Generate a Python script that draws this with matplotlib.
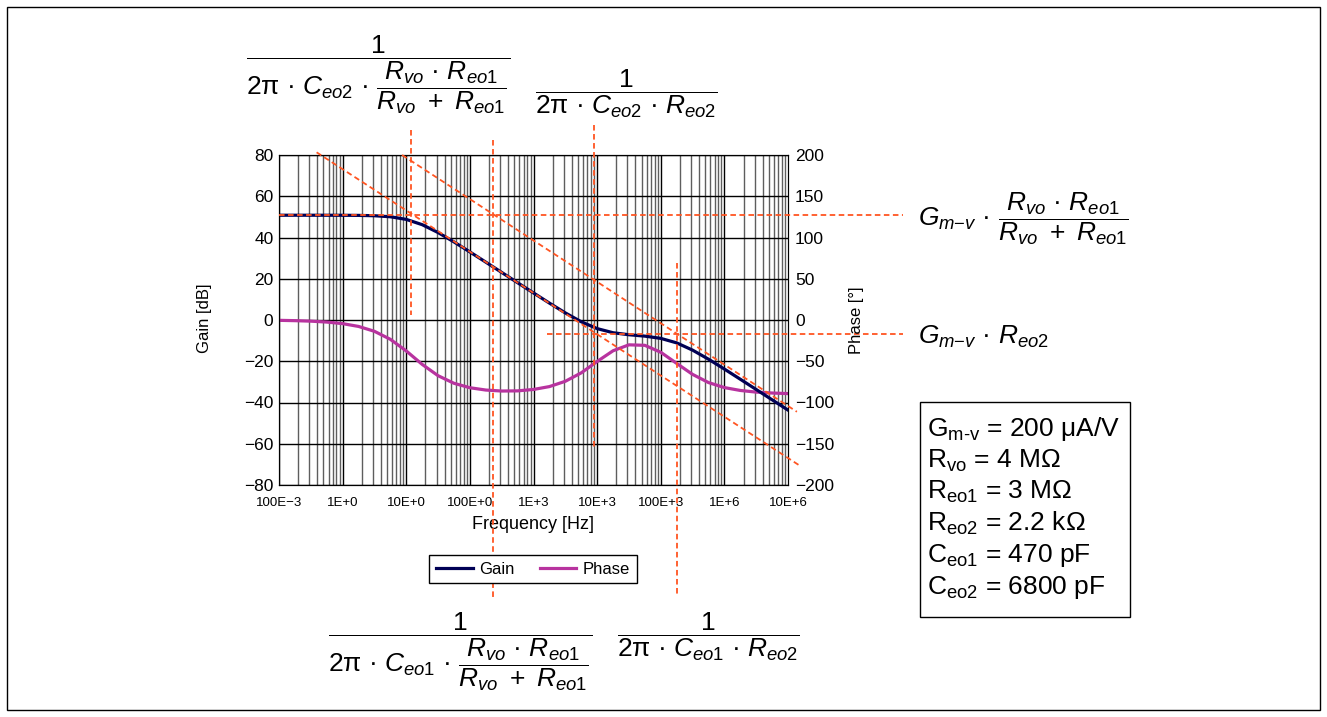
import numpy as np
import matplotlib.pyplot as plt
from matplotlib.patches import Rectangle

plt.rcParams['font.family'] = ['Liberation Sans', 'DejaVu Sans']
plt.rcParams['mathtext.fontset'] = 'custom'
plt.rcParams['mathtext.rm'] = 'Liberation Sans'
plt.rcParams['mathtext.it'] = 'Liberation Sans:italic'
plt.rcParams['mathtext.bf'] = 'Liberation Sans:bold'
plt.rcParams['lines.scale_dashes'] = False

# Datos (Hz, dB, grados)
frecuencia = [0.1, 0.178, 0.316, 0.562,
              1, 1.78, 3.16, 5.62,
              10, 17.8, 31.6, 56.2,
              100, 178, 316, 562,
              1e3, 1.78e3, 3.16e3, 5.62e3,
              1e4, 1.78e4, 3.16e4, 5.62e4,
              1e5, 1.78e5, 3.16e5, 5.62e5,
              1e6, 1.78e6, 3.16e6, 5.62e6, 1e7]
ganancia = [50.8, 50.8, 50.8, 50.79,
            50.77, 50.72, 50.55, 50.06,
            48.78, 46.22, 42.41, 37.86,
            33.01, 28.05, 23.08, 18.09,
            13.12, 8.19, 3.45, -0.85,
            -4.17, -6.17, -7.15, -7.82,
            -8.91, -11.09, -14.60, -18.99,
            -23.78, -28.72, -33.68, -38.68, -43.68]
fase = [-0.4, -0.8, -1.4, -2.5,
        -4.4, -7.8, -13.7, -23.4,
        -37.5, -53.8, -67.5, -76.7,
        -82.1, -84.9, -86.1, -85.9,
        -84.2, -80.7, -74.3, -64.1,
        -50.3, -37.3, -30.1, -30.7,
        -39.1, -52.6, -65.9, -75.8,
        -81.9, -85.4, -87.4, -88.5, -89.2]

# Lineas auxiliares: verticales (f, dB arriba, dB abajo)
verticales = [(11.75, 92.1, 2.4), (230, 87.3, -135.8),
              (9.0e3, 94.5, -63.0), (1.78e5, 27.8, -134.3)]
# horizontales (dB, f inicio, f fin)
horizontales = [(50.8, 0.1, 6.4e8), (-6.9, 1.63e3, 6.4e8)]
# asintotas de -20 dB/dec (f1, dB1, f2, dB2)
asintotas = [(0.39, 81.3, 1.6e7, -71.0), (8.6, 80.0, 1.38e7, -44.5)]

xticks = [0.1, 1, 10, 100, 1e3, 1e4, 1e5, 1e6, 1e7]
xlabels = ['100E\u22123', '1E+0', '10E+0', '100E+0', '1E+3', '10E+3',
           '100E+3', '1E+6', '10E+6']

W, H = 1327, 717
def fx(x):
    return x / W
def fy(y):
    return 1 - y / H

naranja = '#ff5522'
azul = '#000055'
magenta = '#b8339f'

fig = plt.figure(figsize=(W / 100, H / 100), dpi=100)
ax = fig.add_axes([fx(279), fy(485), 509 / W, 330 / H])
ax.set_xscale('log')
ax.set_xlim(0.1, 1e7)
ax.set_ylim(-80, 80)
ax2 = ax.twinx()
ax2.set_ylim(-200, 200)
ax.set_zorder(2)
ax2.set_zorder(1)
ax.patch.set_visible(False)

# rejilla
for d in range(-1, 7):
    for m in range(1, 10):
        ax2.axvline(m * 10.0 ** d, color='black' if m == 1 else '#5e5e5e',
                    lw=1.0, zorder=0)
for y in range(-200, 201, 50):
    ax2.axhline(y, color='black', lw=1.0, zorder=0)

l2, = ax2.plot(frecuencia, fase, color=magenta, lw=2.3, zorder=2, label='Phase')
l1, = ax.plot(frecuencia, ganancia, color=azul, lw=2.3, zorder=2, label='Gain')

for f, a, b in verticales:
    ax.plot([f, f], [a, b], color=naranja, lw=1.3, dashes=(4, 2.5),
            clip_on=False, zorder=3)
for g, a, b in horizontales:
    ax.plot([a, b], [g, g], color=naranja, lw=1.3, dashes=(4, 2.5),
            clip_on=False, zorder=3)
for f1, g1, f2, g2 in asintotas:
    ax.plot([f1, f2], [g1, g2], color=naranja, lw=1.3, dashes=(4, 2.5),
            clip_on=False, zorder=3)

ax.set_yticks(range(-80, 81, 20))
ax.set_yticklabels([str(v).replace('-', '\u2212') for v in range(-80, 81, 20)],
                   fontsize=12.5)
ax2.set_yticks(range(-200, 201, 50))
ax2.set_yticklabels([str(v).replace('-', '\u2212') for v in range(-200, 201, 50)],
                    fontsize=12.5)
ax.set_xticks(xticks)
ax.set_xticklabels(xlabels, fontsize=9.5)
ax.xaxis.set_minor_locator(plt.NullLocator())
ax.tick_params(axis='both', length=0)
ax.tick_params(axis='y', pad=4)
ax.tick_params(axis='x', pad=9)
ax2.tick_params(axis='y', length=0, pad=5)
ax.set_xlabel('Frequency [Hz]', fontsize=13, labelpad=5)
fig.text(fx(204), fy(318), 'Gain [dB]', rotation=90, ha='center', va='center',
         fontsize=12)
fig.text(fx(857), fy(320), 'Phase [\u00b0]', rotation=90, ha='center',
         va='center', fontsize=12)

fig.legend([l1, l2], ['Gain', 'Phase'], loc='upper center',
           bbox_to_anchor=(fx(533), fy(555)), ncol=2, fontsize=12,
           frameon=True, fancybox=False, edgecolor='black', framealpha=1,
           handlelength=2.2, handletextpad=0.4, columnspacing=1.5,
           borderpad=0.4, borderaxespad=0)

# formulas
fs = 19
f1 = r'$\dfrac{\mathrm{1}}{\mathrm{2π\ ·\ }C_{\mathit{eo2}}\mathrm{\ ·\ }\dfrac{R_{vo}\mathrm{\ ·\ }R_{\mathit{eo1}}}{R_{vo}\ +\ R_{\mathit{eo1}}}}$'
f2 = r'$\dfrac{\mathrm{1}}{\mathrm{2π\ ·\ }C_{\mathit{eo2}}\mathrm{\ ·\ }R_{\mathit{eo2}}}$'
f3 = r'$\dfrac{\mathrm{1}}{\mathrm{2π\ ·\ }C_{\mathit{eo1}}\mathrm{\ ·\ }\dfrac{R_{vo}\mathrm{\ ·\ }R_{\mathit{eo1}}}{R_{vo}\ +\ R_{\mathit{eo1}}}}$'
f4 = r'$\dfrac{\mathrm{1}}{\mathrm{2π\ ·\ }C_{\mathit{eo1}}\mathrm{\ ·\ }R_{\mathit{eo2}}}$'
r1 = r'$G_{m{-}v}\mathrm{\ ·\ }\dfrac{R_{vo}\mathrm{\ ·\ }R_{\mathit{eo1}}}{R_{vo}\ +\ R_{\mathit{eo1}}}$'
r2 = r'$G_{m{-}v}\mathrm{\ ·\ }R_{\mathit{eo2}}$'
fig.text(fx(378), fy(75), f1, ha='center', va='center', fontsize=fs)
fig.text(fx(626), fy(94), f2, ha='center', va='center', fontsize=fs)
fig.text(fx(460), fy(652), f3, ha='center', va='center', fontsize=fs)
fig.text(fx(708), fy(637), f4, ha='center', va='center', fontsize=fs)
fig.text(fx(918), fy(219), r1, ha='left', va='center', fontsize=fs)
fig.text(fx(918), fy(337), r2, ha='left', va='center', fontsize=fs)

# cuadro de parametros
fig.patches.append(Rectangle((fx(920), fy(617)), 210 / W, 215 / H,
                             transform=fig.transFigure, fill=False,
                             edgecolor='black', lw=1))
param = [r'G$_{\mathrm{m\text{-}v}}$ = 200 μA/V', r'R$_{\mathrm{vo}}$ = 4 MΩ',
         r'R$_{\mathrm{eo1}}$ = 3 MΩ', r'R$_{\mathrm{eo2}}$ = 2.2 kΩ',
         r'C$_{\mathrm{eo1}}$ = 470 pF', r'C$_{\mathrm{eo2}}$ = 6800 pF']
for i, t in enumerate(param):
    fig.text(fx(927), fy(436 + 31.6 * i), t, ha='left', va='baseline',
             fontsize=19)

# marco exterior
fig.patches.append(Rectangle((fx(7), fy(710)), 1313 / W, 703 / H,
                             transform=fig.transFigure, fill=False,
                             edgecolor='black', lw=1))

fig.savefig('out.png', dpi=100)
